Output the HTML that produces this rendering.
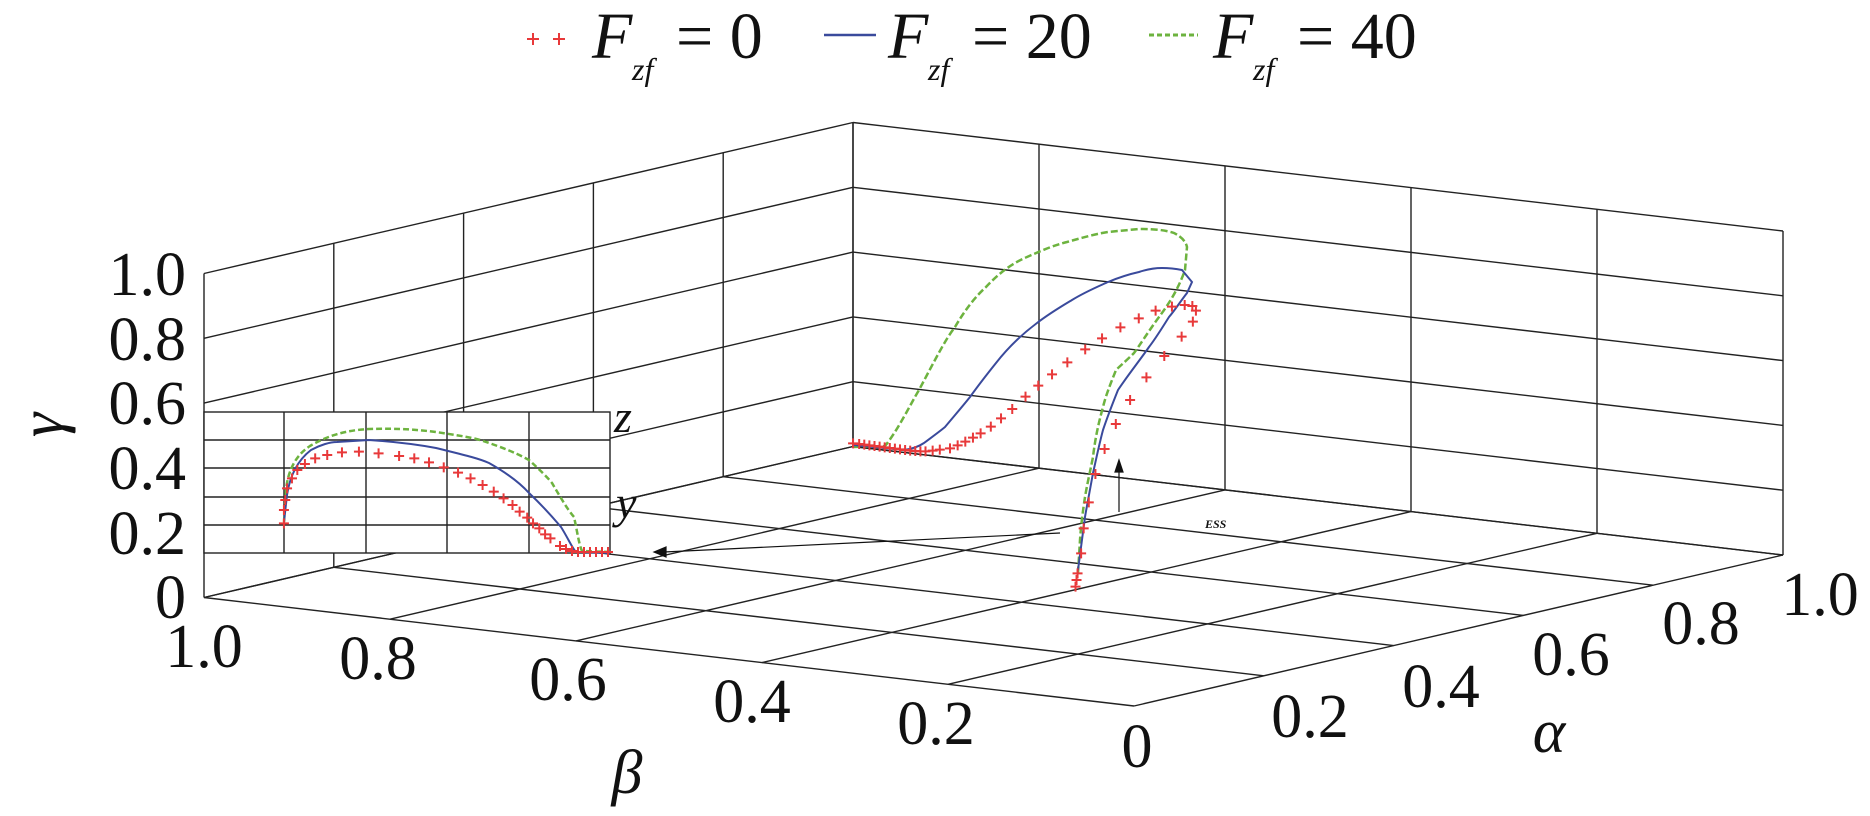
<!DOCTYPE html>
<html><head><meta charset="utf-8"><style>
html,body{margin:0;padding:0;background:#fff;}
svg{display:block;}
svg text{font-family:"Liberation Serif","DejaVu Serif",serif !important;fill:#111;}
</style></head><body>
<svg id="s" width="1870" height="816" viewBox="0 0 1870 816" xmlns="http://www.w3.org/2000/svg" font-family="Liberation Serif, DejaVu Serif, serif">
<g id="grid" stroke="#222" stroke-width="1.4" fill="none"></g>
<g id="inset">
<rect x="204" y="412" width="406" height="141" fill="#fff" stroke="#222" stroke-width="1.4"/>
<g stroke="#222" stroke-width="1.4">
<line x1="284" y1="412" x2="284" y2="553"/><line x1="366" y1="412" x2="366" y2="553"/>
<line x1="447" y1="412" x2="447" y2="553"/><line x1="529" y1="412" x2="529" y2="553"/>
<line x1="204" y1="440" x2="610" y2="440"/><line x1="204" y1="468" x2="610" y2="468"/>
<line x1="204" y1="497" x2="610" y2="497"/><line x1="204" y1="525" x2="610" y2="525"/>
</g>
<path d="M284,522 L286,490 C288,470 296,455 310,446 C330,434 350,430 369,429 C400,428 420,430 436,432 C455,435 470,437 480,440 C505,448 520,455 529,460 C540,470 548,478 552,483 C562,500 568,510 574,517 C577,530 579,545 582,551 L611,552" stroke="#6db33f" stroke-width="2.5" stroke-dasharray="6,3" fill="none"/>
<path d="M284,522 L287,495 C290,475 298,460 311,450 C320,445 330,442 337,442 L369,440 C400,442 420,445 436,448 C460,454 478,458 489,463 C505,472 520,483 529,493 C545,508 555,520 561,527 C568,538 572,548 576,552 L610,553" stroke="#3a4a9c" stroke-width="2" fill="none"/>
<g id="inred" stroke="#e8393a" stroke-width="2"></g>
<text x="614" y="432" font-size="46" font-style="italic">z</text>
<text x="616" y="518" font-size="46" font-style="italic">y</text>
</g>
<path d="M853,447 L885,446 C898,430 910,405 919,390 C935,360 945,340 955,327 C965,310 975,297 986,287 C1000,272 1013,263 1027,257 C1045,249 1055,245 1067,242 C1085,237 1095,234 1108,232 L1139,229 C1155,229 1165,230 1174,233 C1182,237 1186,242 1187,247 L1185,270 C1178,290 1168,305 1159,317 C1148,332 1140,345 1134,353 C1125,362 1120,366 1116,370 C1110,385 1106,395 1103,407 C1098,425 1095,440 1093,457 C1090,472 1087,485 1085,497 C1083,510 1081,525 1080,540 L1078,573" stroke="#6db33f" stroke-width="2.5" stroke-dasharray="7,3" fill="none"/>
<path d="M853,445 L904,450 C912,449 918,447 924,443 C932,437 939,432 945,427 C955,415 962,407 970,397 C980,383 988,373 996,363 C1010,345 1025,332 1037,323 C1050,313 1062,306 1072,300 C1085,292 1097,287 1108,282 C1120,277 1130,274 1139,272 C1148,269 1155,268 1162,268 C1170,268 1177,269 1182,270 L1192,282 L1187,293 C1180,302 1175,310 1169,317 C1162,328 1156,338 1149,347 C1140,360 1128,375 1118,390 C1112,405 1107,418 1103,430 C1099,445 1096,460 1093,473 C1090,490 1087,505 1085,517 L1078,570" stroke="#3a4a9c" stroke-width="2" fill="none"/>
<g id="mainred" stroke="#e8393a" stroke-width="2"></g>
<g stroke="#111" stroke-width="1.2" fill="#111">
<line x1="1119" y1="512" x2="1119" y2="466"/>
<polygon points="1119,460 1115,472 1123,472"/>
<line x1="1060" y1="533" x2="664" y2="552"/>
<polygon points="654,552 666,547 666,557"/>
</g>
<text x="1205" y="528" font-size="12" font-style="italic" font-weight="bold">ESS</text>
<g font-size="62" text-anchor="end">
<text x="186" y="295">1.0</text><text x="186" y="360">0.8</text><text x="186" y="424">0.6</text>
<text x="186" y="489">0.4</text><text x="186" y="554">0.2</text><text x="186" y="618">0</text>
</g>
<g font-size="62" text-anchor="middle">
<text x="204" y="667">1.0</text><text x="378" y="679">0.8</text><text x="568" y="700">0.6</text>
<text x="752" y="722">0.4</text><text x="936" y="744">0.2</text>
<text x="1137" y="767">0</text><text x="1310" y="737">0.2</text><text x="1441" y="707">0.4</text>
<text x="1571" y="675">0.6</text><text x="1701" y="644">0.8</text><text x="1820" y="615">1.0</text>
</g>
<text x="627" y="793" font-size="62" font-style="italic" text-anchor="middle">β</text>
<text x="1549" y="752" font-size="62" font-style="italic" text-anchor="middle">α</text>
<text transform="translate(48,425) rotate(-90)" font-size="62" font-style="italic" text-anchor="middle" dy="14">γ</text>
<g stroke="#e8393a" stroke-width="2"><path d="M527,39h12M533,33v12M553,39h12M559,33v12"/></g>
<text x="592" y="58" font-size="66" font-style="italic">F</text>
<text x="632" y="80" font-size="32" font-style="italic">zf</text>
<text x="676" y="58" font-size="66">= 0</text>
<line x1="824" y1="35" x2="876" y2="35" stroke="#3a4a9c" stroke-width="2.5"/>
<text x="888" y="58" font-size="66" font-style="italic">F</text>
<text x="928" y="80" font-size="32" font-style="italic">zf</text>
<text x="972" y="58" font-size="66">= 20</text>
<line x1="1149" y1="35" x2="1198" y2="35" stroke="#6db33f" stroke-width="3" stroke-dasharray="5,3"/>
<text x="1213" y="58" font-size="66" font-style="italic">F</text>
<text x="1253" y="80" font-size="32" font-style="italic">zf</text>
<text x="1297" y="58" font-size="66">= 40</text>
</svg>
<script>
var NS="http://www.w3.org/2000/svg";
function P(a,b,g){return [1134+649*a-930*b,706-151*a-108.5*b-324*g];}
var G=document.getElementById('grid');
function L(p,q){var l=document.createElementNS(NS,'line');l.setAttribute('x1',p[0]);l.setAttribute('y1',p[1]);l.setAttribute('x2',q[0]);l.setAttribute('y2',q[1]);G.appendChild(l);}
for(var i=0;i<=5;i++){var t=i/5;
 L(P(t,1,0),P(t,1,1)); L(P(0,1,t),P(1,1,t));
 L(P(1,t,0),P(1,t,1)); L(P(1,0,t),P(1,1,t));
 L(P(t,0,0),P(t,1,0)); L(P(0,t,0),P(1,t,0));
}
function crosses(id,pts){var g=document.getElementById(id);var d="";pts.forEach(function(p){d+="M"+(p[0]-5)+","+p[1]+"h10M"+p[0]+","+(p[1]-5)+"v10";});var e=document.createElementNS(NS,'path');e.setAttribute('d',d);g.appendChild(e);}
var m=[[300,1060],[312,1062],[322,1064],[332,1066],[342,1068],[352,1070],[362,1072],[372,1074],[382,1076],[392,1078],[402,1080],[412,1082],[422,1083],[432,1084],[442,1084],[456,1082],[470,1079],[490,1075],[505,1066],[520,1055],[535,1043],[550,1030],[570,1010],[590,985],[612,957],[638,920],[663,887],[690,853],[720,817],[755,778],[788,745],[824,712],[860,685],[893,662],[925,650],[950,645],[965,648],[972,662],[966,695],[944,740],[910,798],[875,862],[843,930],[815,1002],[793,1077],[775,1152],[762,1237],[752,1315],[747,1390],[740,1450],[738,1470],[736,1490]];
crosses('mainred',m.map(function(p){return [700+p[0]/1.96,90+p[1]/3];}));
var r=[[300,1300],[300,1260],[303,1230],[307,1195],[318,1165],[330,1140],[347,1122],[370,1105],[397,1095],[430,1087],[468,1085],[512,1090],[558,1098],[592,1105],[625,1117],[658,1132],[690,1148],[718,1165],[745,1185],[770,1205],[792,1225],[812,1245],[828,1265],[845,1283],[858,1300],[872,1315],[885,1333],[897,1345]];
var rr=r.map(function(p){return [150+p[0]/2.24,90+p[1]/3];});
rr.push([560,546],[566,549],[572,551],[578,552],[584,552],[590,552],[596,552],[602,552],[608,552]);
crosses('inred',rr);
</script>
</body></html>
